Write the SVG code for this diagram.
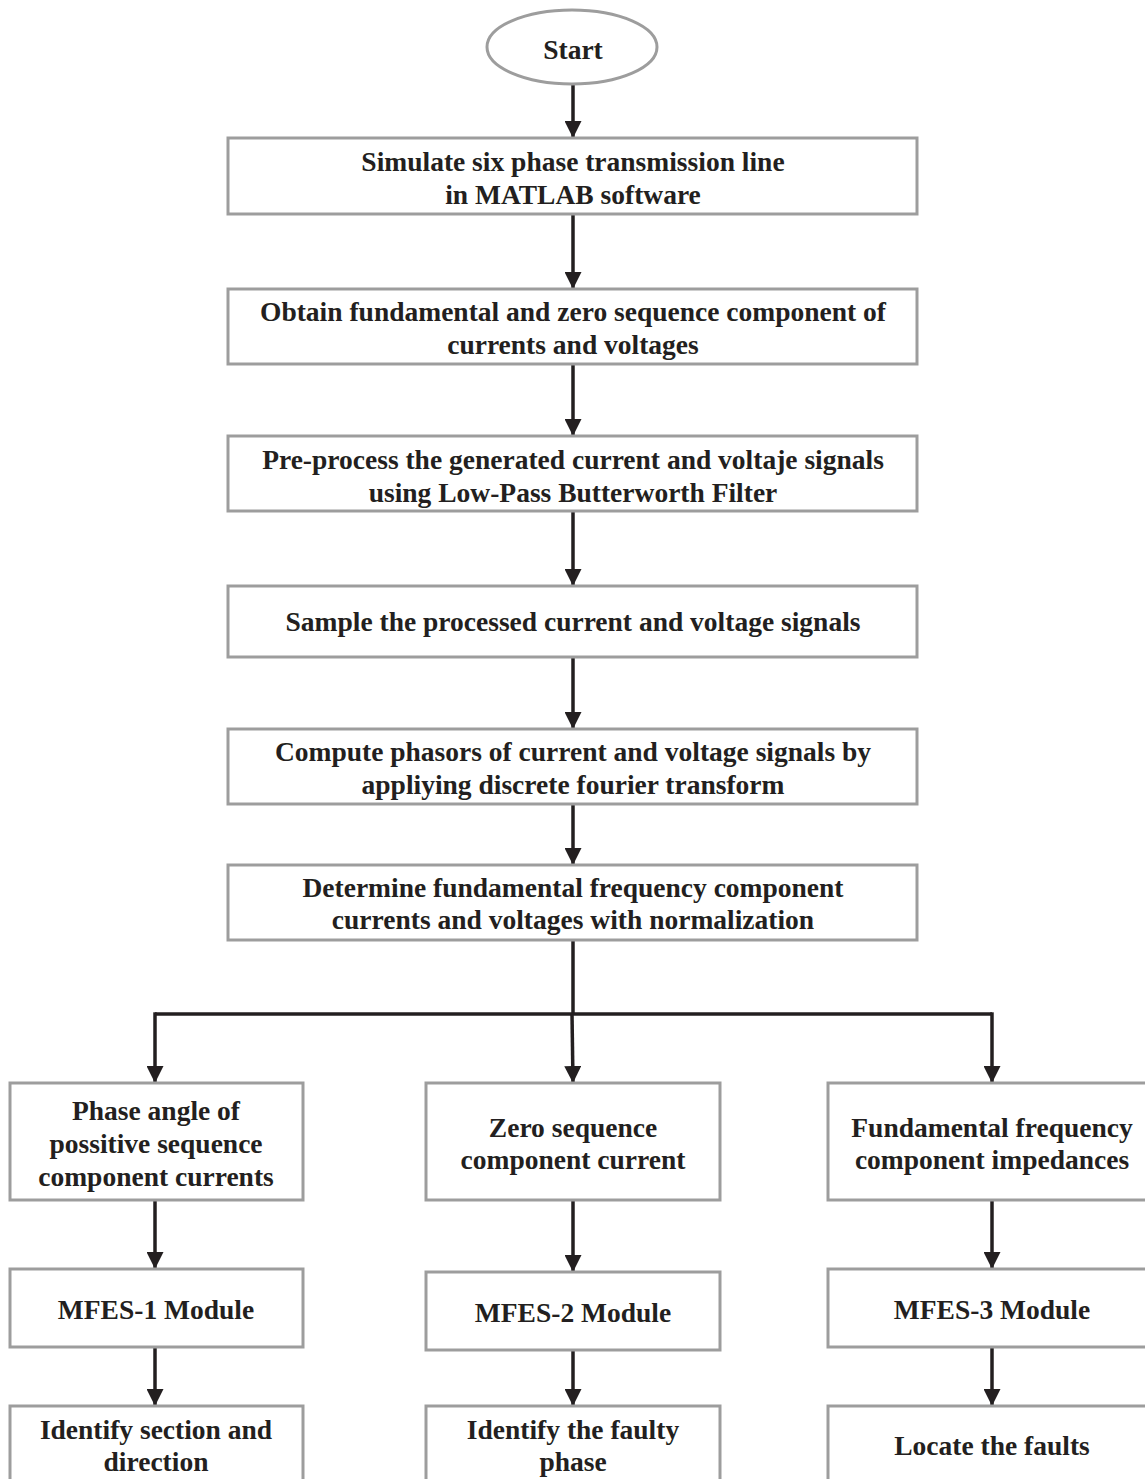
<svg xmlns="http://www.w3.org/2000/svg" width="1145" height="1479" viewBox="0 0 1145 1479">
<defs>
<marker id="ah" markerWidth="16" markerHeight="17" refX="17" refY="8.5" orient="auto" markerUnits="userSpaceOnUse">
<path d="M0,0 L17,8.5 L0,17 Z" fill="#231f20"/>
</marker>
<style>
.box{fill:#fff;stroke:#9d9d9d;stroke-width:3}
.t{font-family:"Liberation Serif","Times New Roman",serif;font-weight:bold;font-size:27.5px;fill:#231f20;text-anchor:middle}
.c{fill:none;stroke:#231f20;stroke-width:3.5}
</style>
</defs>
<rect width="1145" height="1479" fill="#fff"/>
<g id="connectors">
<line class="c" x1="573" y1="84" x2="573" y2="138" marker-end="url(#ah)"/>
<line class="c" x1="573" y1="214" x2="573" y2="289" marker-end="url(#ah)"/>
<line class="c" x1="573" y1="364" x2="573" y2="436" marker-end="url(#ah)"/>
<line class="c" x1="573" y1="511" x2="573" y2="586" marker-end="url(#ah)"/>
<line class="c" x1="573" y1="657" x2="573" y2="729" marker-end="url(#ah)"/>
<line class="c" x1="573" y1="804" x2="573" y2="865" marker-end="url(#ah)"/>
<polyline class="c" points="573,940 573,1014"/>
<polyline class="c" points="155,1014 992,1014"/>
<line class="c" x1="155" y1="1012.3" x2="155" y2="1083" marker-end="url(#ah)"/>
<line class="c" x1="992" y1="1012.3" x2="992" y2="1083" marker-end="url(#ah)"/>
<line class="c" x1="572" y1="1014" x2="573" y2="1083" marker-end="url(#ah)"/>
<line class="c" x1="155" y1="1200" x2="155" y2="1269" marker-end="url(#ah)"/>
<line class="c" x1="573" y1="1200" x2="573" y2="1272" marker-end="url(#ah)"/>
<line class="c" x1="992" y1="1200" x2="992" y2="1269" marker-end="url(#ah)"/>
<line class="c" x1="155" y1="1347" x2="155" y2="1406" marker-end="url(#ah)"/>
<line class="c" x1="573" y1="1350" x2="573" y2="1406" marker-end="url(#ah)"/>
<line class="c" x1="992" y1="1347" x2="992" y2="1406" marker-end="url(#ah)"/>
</g>
<g id="start">
<ellipse cx="572" cy="47" rx="85" ry="37" fill="#fff" stroke="#9d9d9d" stroke-width="3"/>
<text class="t" x="573" y="59">Start</text>
</g>
<g id="simulate">
<rect class="box" x="228" y="138" width="689" height="76"/>
<text class="t" x="573" y="171">Simulate six phase transmission line</text>
<text class="t" x="573" y="204">in MATLAB software</text>
</g>
<g id="obtain">
<rect class="box" x="228" y="289" width="689" height="75"/>
<text class="t" x="573" y="321">Obtain fundamental and zero sequence component of</text>
<text class="t" x="573" y="354">currents and voltages</text>
</g>
<g id="preprocess">
<rect class="box" x="228" y="436" width="689" height="75"/>
<text class="t" x="573" y="469">Pre-process the generated current and voltaje signals</text>
<text class="t" x="573" y="502">using Low-Pass Butterworth Filter</text>
</g>
<g id="sample">
<rect class="box" x="228" y="586" width="689" height="71"/>
<text class="t" x="573" y="631">Sample the processed current and voltage signals</text>
</g>
<g id="compute">
<rect class="box" x="228" y="729" width="689" height="75"/>
<text class="t" x="573" y="761">Compute phasors of current and voltage signals by</text>
<text class="t" x="573" y="794">appliying discrete fourier transform</text>
</g>
<g id="determine">
<rect class="box" x="228" y="865" width="689" height="75"/>
<text class="t" x="573" y="897">Determine fundamental frequency component</text>
<text class="t" x="573" y="929">currents and voltages with normalization</text>
</g>
<g id="phase-angle">
<rect class="box" x="10" y="1083" width="293" height="117"/>
<text class="t" x="156" y="1120">Phase angle of</text>
<text class="t" x="156" y="1153">possitive sequence</text>
<text class="t" x="156" y="1186">component currents</text>
</g>
<g id="zero-seq">
<rect class="box" x="426" y="1083" width="294" height="117"/>
<text class="t" x="573" y="1137">Zero sequence</text>
<text class="t" x="573" y="1169">component current</text>
</g>
<g id="fund-freq">
<rect class="box" x="828" y="1083" width="320" height="117"/>
<text class="t" x="992" y="1137">Fundamental frequency</text>
<text class="t" x="992" y="1169">component impedances</text>
</g>
<g id="mfes1">
<rect class="box" x="10" y="1269" width="293" height="78"/>
<text class="t" x="156" y="1319">MFES-1 Module</text>
</g>
<g id="mfes2">
<rect class="box" x="426" y="1272" width="294" height="78"/>
<text class="t" x="573" y="1322">MFES-2 Module</text>
</g>
<g id="mfes3">
<rect class="box" x="828" y="1269" width="320" height="78"/>
<text class="t" x="992" y="1319">MFES-3 Module</text>
</g>
<g id="identify-section">
<rect class="box" x="10" y="1406" width="293" height="90"/>
<text class="t" x="156" y="1439">Identify section and</text>
<text class="t" x="156" y="1471">direction</text>
</g>
<g id="identify-phase">
<rect class="box" x="426" y="1406" width="294" height="90"/>
<text class="t" x="573" y="1439">Identify the faulty</text>
<text class="t" x="573" y="1471">phase</text>
</g>
<g id="locate">
<rect class="box" x="828" y="1406" width="320" height="90"/>
<text class="t" x="992" y="1455">Locate the faults</text>
</g>
</svg>
